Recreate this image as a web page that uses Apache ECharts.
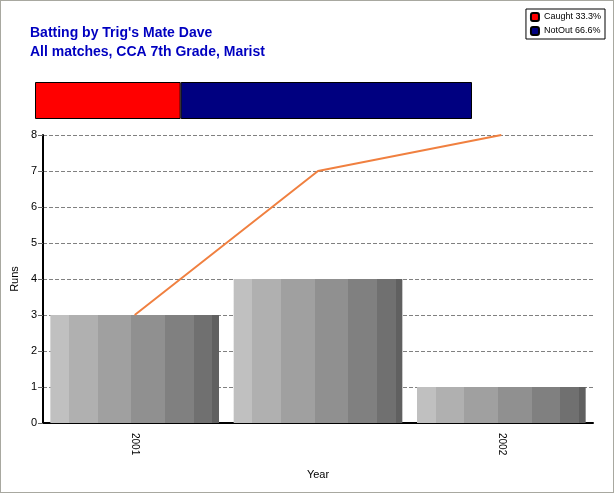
<!DOCTYPE html>
<html><head><meta charset="utf-8">
<script src="https://cdn.jsdelivr.net/npm/echarts@6/dist/echarts.min.js"></script>
<style>html,body{margin:0;padding:0;background:#fff}#c{width:612px;height:491px;border:1px solid #a8a8a0}</style>
</head><body><div id="c"></div>
<script>
const categories = ['2001', '', '2002'];
const runs = [3, 4, 1];
const cumulative = [3, 7, 8];
const dismissalNames = ['Caught', 'NotOut'];
const dismissalPct = [33.3, 66.6];
const dismissalColors = ['#ff0000', '#000080'];

const chart = echarts.init(document.getElementById('c'));
const bands = ['#c0c0c0','#b0b0b0','#a0a0a0','#909090','#808080','#707070','#606060'];
const edges = [0,0.11,0.28,0.48,0.68,0.85,0.96,1];
const stops = [];
bands.forEach((c,i)=>{stops.push({offset:edges[i],color:c});stops.push({offset:edges[i+1],color:c});});
const grad = new echarts.graphic.LinearGradient(0,0,1,0,stops);
const f = {fontFamily:'Arial, Liberation Sans, sans-serif'};

chart.setOption({
  animation:false,
  title:{text:"Batting by Trig's Mate Dave\nAll matches, CCA 7th Grade, Marist",left:24,top:18,
    textStyle:{color:'#0000c0',fontSize:14,fontWeight:'bold',lineHeight:19,fontFamily:'Arial, Liberation Sans, sans-serif'}},
  legend:{right:8,top:8,orient:'vertical',itemWidth:8,itemHeight:8,itemGap:4,padding:[3,4],
    borderColor:'#000',borderWidth:1,textStyle:{fontSize:9,color:'#000',...f},
    data:dismissalNames.map((n,i)=>({name:n+' '+dismissalPct[i]+'%',itemStyle:{color:dismissalColors[i]}}))},
  grid:[{left:34,right:20,top:134,bottom:69},{left:34,top:81,height:37,width:437}],
  xAxis:[
    {type:'category',data:categories,gridIndex:0,name:'Year',nameLocation:'middle',nameGap:46,
     nameTextStyle:{fontSize:11,color:'#000',...f},
     axisLine:{lineStyle:{color:'#000',width:2}},axisTick:{alignWithLabel:true,lineStyle:{color:'#666'}},
     axisLabel:{rotate:-90,fontSize:10,color:'#000',margin:10,...f}},
    {type:'value',gridIndex:1,min:0,max:99.9,show:false}
  ],
  yAxis:[
    {type:'value',gridIndex:0,min:0,max:8,interval:1,name:'Runs',nameLocation:'middle',nameGap:22,
     nameTextStyle:{fontSize:11,color:'#000',...f},
     axisLine:{show:true,lineStyle:{color:'#000',width:2}},axisTick:{show:true,lineStyle:{color:'#666'}},
     axisLabel:{fontSize:11,color:'#000',margin:6,...f},
     splitLine:{lineStyle:{color:'#808080',type:'dashed'}}},
    {type:'category',gridIndex:1,data:['d'],show:false}
  ],
  series:[
    {type:'bar',data:runs,barWidth:'92%',xAxisIndex:0,yAxisIndex:0,itemStyle:{color:grad}},
    {type:'line',data:cumulative,xAxisIndex:0,yAxisIndex:0,symbol:'none',lineStyle:{color:'#f08040',width:2},z:5},
    ...dismissalNames.map((n,i)=>({name:n+' '+dismissalPct[i]+'%',type:'bar',stack:'d',xAxisIndex:1,yAxisIndex:1,
      barWidth:'100%',data:[dismissalPct[i]],itemStyle:{color:dismissalColors[i],borderColor:'#000',borderWidth:1}}))
  ]
});
</script></body></html>
